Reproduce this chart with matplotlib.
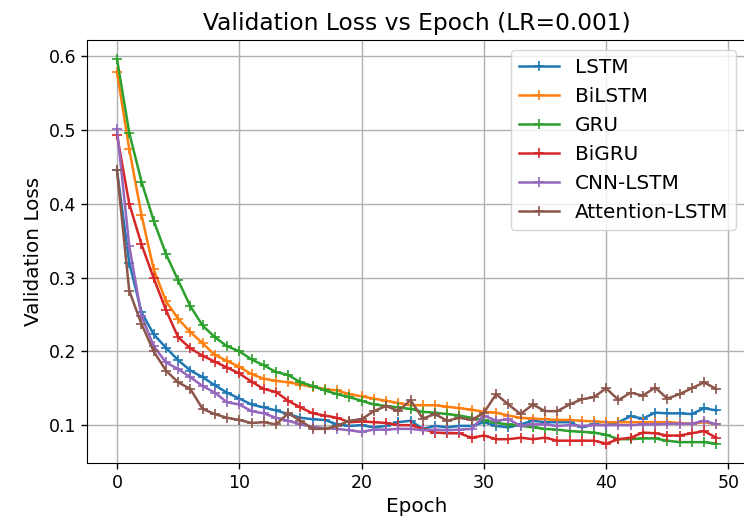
import matplotlib
matplotlib.use('Agg')
import matplotlib.pyplot as plt
import numpy as np

# validation loss per epoch
epochs = np.arange(50)

lstm = [0.445, 0.320, 0.253, 0.223, 0.205, 0.188, 0.174, 0.165, 0.154, 0.144,
        0.136, 0.128, 0.124, 0.120, 0.115, 0.110, 0.108, 0.107, 0.101, 0.099,
        0.100, 0.097, 0.099, 0.104, 0.106, 0.095, 0.099, 0.097, 0.099, 0.099,
        0.104, 0.099, 0.097, 0.101, 0.106, 0.104, 0.104, 0.104, 0.097, 0.101,
        0.100, 0.104, 0.112, 0.109, 0.117, 0.116, 0.116, 0.115, 0.123, 0.120]

bilstm = [0.578, 0.474, 0.385, 0.311, 0.268, 0.244, 0.226, 0.211, 0.195, 0.187,
          0.179, 0.169, 0.163, 0.160, 0.158, 0.155, 0.152, 0.149, 0.147, 0.142,
          0.139, 0.136, 0.133, 0.130, 0.127, 0.127, 0.127, 0.125, 0.123, 0.121,
          0.118, 0.117, 0.113, 0.110, 0.109, 0.108, 0.107, 0.107, 0.106, 0.105,
          0.104, 0.104, 0.104, 0.104, 0.104, 0.104, 0.103, 0.102, 0.104, 0.101]

gru = [0.596, 0.496, 0.430, 0.377, 0.332, 0.296, 0.261, 0.235, 0.219, 0.207,
       0.200, 0.189, 0.181, 0.172, 0.168, 0.158, 0.153, 0.147, 0.142, 0.138,
       0.133, 0.128, 0.126, 0.124, 0.122, 0.118, 0.117, 0.115, 0.113, 0.110,
       0.107, 0.103, 0.101, 0.099, 0.097, 0.095, 0.094, 0.092, 0.091, 0.090,
       0.087, 0.081, 0.081, 0.082, 0.082, 0.079, 0.077, 0.077, 0.077, 0.075]

bigru = [0.493, 0.400, 0.345, 0.299, 0.256, 0.219, 0.204, 0.194, 0.186, 0.178,
         0.170, 0.159, 0.149, 0.145, 0.133, 0.124, 0.116, 0.113, 0.110, 0.104,
         0.105, 0.104, 0.103, 0.100, 0.100, 0.095, 0.090, 0.089, 0.089, 0.083,
         0.086, 0.081, 0.081, 0.083, 0.081, 0.083, 0.079, 0.079, 0.079, 0.079,
         0.075, 0.081, 0.083, 0.090, 0.089, 0.086, 0.086, 0.089, 0.092, 0.083]

cnn_lstm = [0.501, 0.343, 0.248, 0.207, 0.185, 0.176, 0.165, 0.153, 0.144, 0.131,
            0.128, 0.119, 0.116, 0.110, 0.106, 0.101, 0.098, 0.096, 0.095, 0.093,
            0.091, 0.094, 0.094, 0.095, 0.095, 0.093, 0.094, 0.093, 0.094, 0.095,
            0.113, 0.106, 0.108, 0.099, 0.101, 0.101, 0.099, 0.100, 0.099, 0.100,
            0.100, 0.100, 0.100, 0.101, 0.101, 0.102, 0.102, 0.102, 0.106, 0.101]

att_lstm = [0.445, 0.282, 0.237, 0.200, 0.174, 0.158, 0.149, 0.122, 0.115, 0.110,
            0.107, 0.103, 0.104, 0.101, 0.116, 0.106, 0.095, 0.095, 0.099, 0.106,
            0.108, 0.119, 0.126, 0.119, 0.134, 0.109, 0.115, 0.106, 0.110, 0.107,
            0.117, 0.142, 0.128, 0.115, 0.128, 0.119, 0.119, 0.128, 0.135, 0.138,
            0.150, 0.134, 0.144, 0.140, 0.151, 0.136, 0.142, 0.150, 0.158, 0.149]

labels = ['LSTM', 'BiLSTM', 'GRU', 'BiGRU', 'CNN-LSTM', 'Attention-LSTM']
series = [lstm, bilstm, gru, bigru, cnn_lstm, att_lstm]

fig = plt.figure(figsize=(7.44, 5.23), dpi=100)
ax = fig.add_axes([0.117, 0.115, 0.886, 0.809])

for name, vals in zip(labels, series):
    ax.plot(epochs, vals, marker='+', markersize=7.2, markeredgewidth=1.2,
            linewidth=1.8, label=name)

ax.set_title('Validation Loss vs Epoch (LR=0.001)', fontsize=16.8, pad=7)
ax.set_xlabel('Epoch', fontsize=14.4)
ax.set_ylabel('Validation Loss', fontsize=14.4)
ax.tick_params(labelsize=12.5, width=1.0, length=4.2)
ax.grid(True, linewidth=1.0)
ax.legend(loc='upper right', fontsize=14.4)

fig.savefig('out.png', dpi=100)
